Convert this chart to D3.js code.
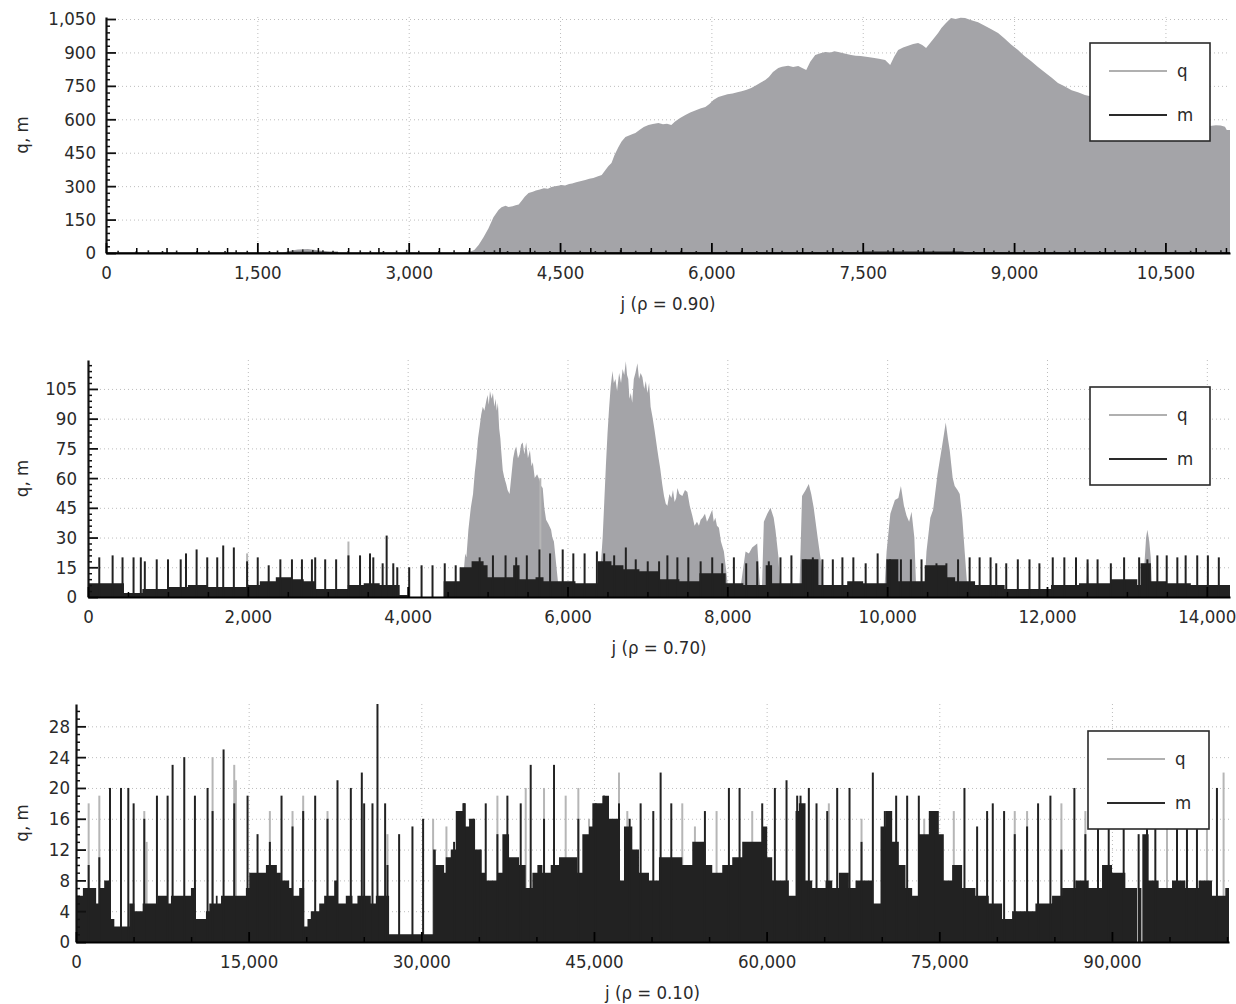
<!DOCTYPE html>
<html><head><meta charset="utf-8">
<script src="https://cdn.jsdelivr.net/npm/d3@7"></script>
<style>
body{margin:0;background:#fff;}
svg{display:block;}
</style></head><body>
<svg id="c" width="1236" height="1004"></svg>
<script>
// ---------------- DATA ----------------
// Panel 1 (rho = 0.90)
const p1_xTicks = [0,1500,3000,4500,6000,7500,9000,10500];
const p1_yTicks = [0,150,300,450,600,750,900,1050];
const p1_q = [[0,0],[1750,0],[1800,8],[1900,16],[2000,18],[2100,12],[2200,6],[2300,0],[3550,0],[3600,4],[3650,14],[3693,36],[3740,70],[3790,110],[3840,160],[3890,193],[3920,205],[3960,212],[3990,206],[4030,210],[4060,214],[4090,218],[4120,235],[4150,252],[4188,269],[4230,275],[4260,281],[4300,285],[4340,291],[4380,288],[4415,296],[4450,299],[4480,302],[4514,305],[4550,303],[4590,310],[4620,312],[4660,318],[4700,322],[4750,328],[4790,333],[4830,336],[4870,343],[4913,350],[4950,372],[4980,390],[5010,404],[5040,440],[5079,476],[5110,500],[5148,521],[5190,528],[5220,534],[5247,538],[5290,553],[5330,565],[5376,574],[5420,579],[5475,583],[5520,578],[5560,580],[5603,574],[5640,590],[5690,606],[5742,619],[5790,630],[5840,640],[5890,648],[5940,655],[5980,669],[6020,686],[6069,700],[6110,706],[6160,712],[6210,716],[6267,722],[6300,726],[6350,733],[6395,740],[6440,752],[6490,765],[6534,776],[6570,790],[6610,812],[6663,830],[6700,836],[6761,840],[6810,835],[6861,839],[6900,830],[6940,821],[6980,858],[7029,888],[7080,896],[7128,902],[7180,900],[7220,905],[7257,902],[7300,897],[7340,893],[7385,888],[7430,885],[7480,884],[7550,880],[7600,876],[7660,872],[7722,866],[7750,854],[7772,844],[7810,880],[7851,911],[7900,922],[7950,930],[8000,938],[8049,942],[8090,933],[8128,920],[8190,955],[8247,987],[8280,1010],[8320,1030],[8375,1054],[8420,1050],[8470,1056],[8514,1054],[8570,1046],[8643,1036],[8700,1022],[8770,1005],[8841,987],[8900,965],[8970,936],[9039,911],[9100,885],[9170,860],[9237,835],[9300,812],[9370,787],[9435,763],[9500,748],[9570,730],[9640,720],[9702,709],[9800,699],[9900,690],[10050,675],[10200,660],[10350,640],[10500,620],[10650,602],[10800,585],[10940,570],[11000,573],[11048,572],[11090,566],[11108,552],[11140,552]];
const p1_qSpikes = [];
const p1_mBase = [[0,3],[1800,6],[2300,3],[3600,5],[7500,7],[8500,5]];
const p1_mSpikes = [[120,10],[300,8],[420,12],[560,9],[700,11],[900,8],[1020,10],[1180,9],[1290,12],[1400,10],[1620,9],[1700,11],[1850,13],[1950,16],[2050,14],[2150,12],[2250,10],[2400,9],[2520,12],[2620,10],[2750,9],[2880,11],[2980,14],[3100,10],[3300,9],[3450,12],[3600,11],[3750,10],[3850,12],[3980,9],[4100,11],[4250,10],[4400,9],[4550,12],[4700,10],[4850,9],[4950,11],[5100,13],[5250,10],[5400,9],[5550,11],[5700,10],[5850,9],[6150,10],[6300,11],[6450,9],[6550,12],[6700,10],[6850,11],[7000,9],[7150,12],[7300,10],[7450,11],[7600,13],[7750,12],[7900,14],[8050,13],[8200,10],[8400,12],[8600,9],[8800,11],[8950,10],[9100,12],[9250,9],[9400,10],[9550,11],[9700,10],[9850,9],[10000,12],[10150,10],[10300,11],[10600,12],[10750,10],[10900,11],[11050,12]];

// Panel 2 (rho = 0.70)
const p2_xTicks = [0,2000,4000,6000,8000,10000,12000,14000];
const p2_yTicks = [0,15,30,45,60,75,90,105];
const p2_q = [[0,0],[4650,0],[4692,8],[4720,22],[4735,20],[4760,34],[4790,45],[4818,52],[4840,63],[4860,70],[4880,80],[4901,86],[4920,92],[4940,96],[4960,94],[4984,99],[5000,102],[5015,97],[5030,104],[5050,100],[5067,103],[5085,96],[5100,100],[5115,94],[5129,98],[5145,85],[5160,80],[5170,74],[5190,64],[5210,60],[5233,57],[5250,54],[5275,52],[5295,60],[5320,70],[5340,74],[5358,76],[5380,70],[5400,72],[5420,77],[5440,78],[5460,72],[5483,78],[5505,70],[5530,74],[5550,66],[5566,68],[5590,60],[5620,62],[5649,59],[5670,56],[5690,55],[5710,45],[5732,39],[5760,37],[5795,34],[5810,30],[5830,28],[5845,22],[5857,17],[5880,8],[5898,0],
 [6380,0],[6410,12],[6440,30],[6460,48],[6480,66],[6500,82],[6520,95],[6540,106],[6563,114],[6580,108],[6600,110],[6620,104],[6646,113],[6670,108],[6690,115],[6710,112],[6730,119],[6745,112],[6760,110],[6775,100],[6792,103],[6810,98],[6830,110],[6850,113],[6875,118],[6895,110],[6915,113],[6937,111],[6960,105],[6980,109],[7000,103],[7021,108],[7040,96],[7063,91],[7090,84],[7125,74],[7140,70],[7160,65],[7185,57],[7208,51],[7230,47],[7250,46],[7275,52],[7300,50],[7320,54],[7340,48],[7360,50],[7375,55],[7400,52],[7437,51],[7470,54],[7500,53],[7530,46],[7562,41],[7590,36],[7620,38],[7645,36],[7666,39],[7690,40],[7720,42],[7745,38],[7770,40],[7790,42],[7811,44],[7830,38],[7850,40],[7870,36],[7895,35],[7920,28],[7957,23],[7990,12],[8020,0],
 [8150,0],[8200,15],[8228,23],[8270,22],[8311,25],[8374,27],[8400,10],[8420,0],
 [8430,0],[8457,38],[8500,42],[8540,45],[8580,40],[8602,34],[8640,20],[8665,0],
 [8900,0],[8935,51],[8980,54],[9019,57],[9050,52],[9081,45],[9130,30],[9185,14],[9210,0],
 [9960,0],[9993,23],[10040,42],[10097,49],[10140,50],[10172,56],[10210,46],[10243,41],[10275,38],[10305,43],[10340,30],[10367,0],
 [10460,0],[10492,23],[10540,40],[10575,44],[10630,62],[10679,74],[10710,82],[10733,88],[10760,80],[10783,74],[10820,60],[10845,56],[10880,54],[10908,52],[10940,40],[10970,23],[11012,0],
 [12480,0],[12508,16],[12540,0],
 [13190,0],[13215,14],[13240,30],[13256,34],[13280,28],[13298,20],[13320,0],[14290,0]];
const p2_qSpikes = [[1991,22],[3259,28],[5660,60],[12508,17]];
const p2_mBase = [[0,7],[450,2],[680,4],[1000,5],[1250,6],[1500,5],[2000,6],[2150,8],[2350,10],[2550,9],[2700,8],[2850,4],[3250,6],[3450,7],[3650,6],[3900,1],[4000,0],[4450,8],[4650,15],[4800,18],[4950,16],[5000,10],[5320,16],[5400,9],[5600,10],[5700,8],[5900,8],[6100,7],[6380,18],[6550,16],[6700,14],[6900,13],[7150,9],[7400,8],[7650,12],[7980,7],[8200,6],[8480,16],[8560,7],[8930,19],[9140,6],[9500,8],[9700,7],[9990,19],[10140,8],[10470,16],[10740,10],[10850,8],[11100,6],[11470,4],[12050,6],[12400,7],[12800,9],[13130,6],[13170,17],[13300,8],[13500,7],[13800,6]];
const p2_mSpikes = [[141,20],[308,21],[432,20],[570,20],[661,20],[711,18],[860,19],[1001,19],[1160,19],[1226,22],[1359,24],[1492,20],[1617,20],[1692,26],[1825,25],[1991,18],[2124,20],[2261,16],[2407,19],[2552,19],[2677,19],[2802,19],[2843,20],[2968,19],[3105,19],[3259,21],[3404,21],[3529,22],[3570,20],[3687,17],[3737,31],[3820,17],[3870,15],[4019,15],[4174,16],[4311,16],[4464,17],[4601,16],[4901,20],[5067,21],[5225,21],[5358,20],[5491,21],[5649,24],[5782,22],[5940,24],[6073,22],[6214,22],[6368,23],[6459,22],[6584,21],[6730,25],[6854,19],[7004,18],[7146,18],[7250,21],[7375,20],[7512,20],[7666,18],[7811,20],[7936,17],[8082,20],[8236,17],[8374,18],[8519,18],[8665,20],[8802,21],[8977,19],[9070,20],[9190,19],[9320,19],[9440,20],[9577,20],[9731,17],[9881,22],[10035,19],[10172,19],[10297,19],[10430,19],[10617,17],[10741,17],[10887,19],[11032,20],[11157,20],[11294,20],[11365,17],[11490,17],[11635,19],[11781,19],[11905,17],[12072,20],[12217,20],[12363,20],[12508,19],[12633,19],[12799,17],[12965,20],[13153,20],[13256,19],[13381,21],[13498,21],[13631,20],[13735,21],[13880,21],[14013,21],[14150,20]];

// Panel 3 (rho = 0.10)
const p3_xTicks = [0,15000,30000,45000,60000,75000,90000];
const p3_yTicks = [0,4,8,12,16,20,24,28];
const p3_q = null;
const p3_qSpikes = [[1100,18],[2026,19],[5933,17],[6135,13],[11865,24],[13747,23],[13891,21],[16843,17],[18811,17],[19737,19],[21850,17],[27059,14],[31024,16],[32182,15],[36610,19],[39070,20],[40662,20],[42543,19],[43642,20],[44569,16],[47173,22],[47896,17],[52672,18],[53771,15],[55652,17],[58749,17],[65405,18],[68244,16],[73690,16],[76261,17],[81557,17],[82628,17],[85609,18],[87692,17],[94782,15],[98254,15],[99700,22]];
const p3_mBase = [[0,6],[600,7],[1750,5],[2050,7],[2450,8],[2900,3],[3330,2],[4630,5],[5070,4],[5790,5],[7090,6],[7960,5],[8250,6],[9985,7],[10420,3],[11290,4],[11580,5],[12150,6],[12300,5],[12600,6],[14760,7],[15050,9],[16500,10],[17360,9],[17800,8],[18520,7],[18810,6],[19390,7],[19820,2],[20110,3],[20400,4],[21130,5],[21560,6],[22430,8],[22720,5],[23440,6],[24020,5],[24450,6],[25610,5],[26050,6],[27200,1],[31024,12],[31256,10],[31980,9],[32124,11],[32558,12],[32993,17],[33571,18],[33861,15],[34150,16],[34584,12],[35163,9],[35597,8],[36610,9],[37044,14],[37623,11],[38491,10],[39070,7],[39649,9],[40083,10],[40517,9],[41240,10],[41964,11],[43556,9],[43990,14],[44569,15],[44860,18],[45726,19],[46305,16],[47173,8],[47608,15],[48331,12],[48910,9],[49778,8],[50646,11],[52672,10],[53540,13],[54697,10],[55276,9],[56144,10],[57012,11],[57880,13],[58749,13],[59617,15],[60051,11],[60486,8],[61933,6],[62512,17],[62801,18],[63380,8],[63959,7],[65117,8],[65700,7],[66276,9],[67144,7],[67723,8],[69170,5],[69894,15],[70328,17],[70907,13],[71486,10],[72065,7],[72644,6],[73222,14],[74090,17],[74958,14],[75392,8],[76116,10],[76984,7],[78141,6],[79300,5],[80457,3],[81326,4],[83351,5],[84798,6],[85666,7],[86824,8],[87981,7],[89140,10],[90008,9],[91165,7],[92177,0],[92260,7],[92560,0],[92640,14],[93190,8],[94058,7],[95220,8],[96378,7],[97530,8],[98690,6],[99848,7]];
const p3_mSpikes = [[1100,10],[2026,11],[2952,20],[3907,20],[4544,20],[5007,18],[5933,16],[7032,19],[7959,19],[8393,23],[9406,24],[10332,19],[11431,20],[11865,17],[12821,25],[13747,18],[14904,19],[15772,14],[16843,13],[17364,10],[17856,19],[18811,15],[19737,17],[20779,19],[21850,16],[22718,21],[23876,20],[24831,22],[25033,18],[25757,18],[26191,31],[26856,18],[27059,10],[28072,14],[29230,15],[30156,16],[32848,13],[33716,18],[34584,16],[35163,12],[35597,18],[36610,14],[37478,19],[38636,18],[39504,23],[40662,16],[41530,23],[43642,16],[45147,18],[45871,19],[47173,18],[48099,16],[49054,18],[50154,17],[50791,22],[51717,18],[54639,17],[56723,20],[57649,20],[59617,18],[60716,20],[61729,21],[62655,19],[62945,19],[63668,20],[64334,18],[65264,17],[66129,20],[67202,20],[68244,13],[69228,22],[70270,17],[71254,19],[72209,19],[73222,19],[74669,17],[77187,20],[78287,15],[79155,17],[79647,18],[80631,17],[81557,14],[82628,15],[83583,18],[84654,19],[85609,12],[86738,20],[87692,14],[88791,17],[89720,17],[91020,18],[92320,14],[93045,17],[93770,16],[95650,15],[96518,15],[97386,15],[99122,20]];

const seriesNames = ['q','m'];
const xLabels = ['j (\u03c1 = 0.90)','j (\u03c1 = 0.70)','j (\u03c1 = 0.10)'];
const yLabel = 'q, m';

// ---------------- STYLE / LAYOUT ----------------
const FONT = '"DejaVu Sans Condensed","DejaVu Sans",sans-serif';
const FS = 18.5;
const Q_FILL = '#a4a4a8', Q_SPIKE = '#b6b6b6', M_FILL = '#222222', TXT = '#2a2a2a';
const svg = d3.select('#c');

const panels = [
 {xMax:11140, yMax:1059, left:106, right:1230, top:17, bottom:253, xT:p1_xTicks, yT:p1_yTicks, xMinor:300, yMinor:30,
  q:p1_q, qS:p1_qSpikes, mB:p1_mBase, mS:p1_mSpikes, lab:xLabels[0], yPad:10, legend:[1090,43,120,98], spikeW:1.6},
 {xMax:14290, yMax:119.6, left:88, right:1230, top:360, bottom:597, xT:p2_xTicks, yT:p2_yTicks, xMinor:500, yMinor:3,
  q:p2_q, qS:p2_qSpikes, mB:p2_mBase, mS:p2_mSpikes, lab:xLabels[1], yPad:11, legend:[1090,387,120,98], spikeW:2},
 {xMax:100170, yMax:30.9, left:76, right:1229, top:704, bottom:942, xT:p3_xTicks, yT:p3_yTicks, xMinor:5000, yMinor:1,
  q:p3_q, qS:p3_qSpikes, mB:p3_mBase, mS:p3_mSpikes, lab:xLabels[2], yPad:6, legend:[1088,731,121,98], spikeW:2}
];

function drawPanel(c){
  const x = d3.scaleLinear().domain([0,c.xMax]).range([c.left,c.right]);
  const y = d3.scaleLinear().domain([0,c.yMax]).range([c.bottom,c.top]).clamp(true);
  const g = svg.append('g');

  // grid
  g.append('g').selectAll('line').data(c.xT.filter(d=>d>0)).join('line')
    .attr('x1',d=>x(d)+0.5).attr('x2',d=>x(d)+0.5).attr('y1',c.top).attr('y2',c.bottom)
    .attr('stroke','#bdbdbd').attr('stroke-width',1).attr('stroke-dasharray','1,3');
  g.append('g').selectAll('line').data(c.yT.filter(d=>d>0)).join('line')
    .attr('y1',d=>y(d)+0.5).attr('y2',d=>y(d)+0.5).attr('x1',c.left).attr('x2',c.right)
    .attr('stroke','#bdbdbd').attr('stroke-width',1).attr('stroke-dasharray','1,3');

  // q area
  if (c.q) {
    g.append('path').datum(c.q)
      .attr('d', d3.area().x(d=>x(d[0])).y0(y(0)).y1(d=>y(d[1])))
      .attr('fill', Q_FILL);
  }
  // q spikes
  g.append('g').selectAll('line').data(c.qS).join('line')
    .attr('x1',d=>x(d[0])).attr('x2',d=>x(d[0])).attr('y1',y(0)).attr('y2',d=>y(d[1]))
    .attr('stroke',Q_SPIKE).attr('stroke-width',c.spikeW);
  // m base (step area)
  const mb = c.mB.concat([[c.xMax, c.mB[c.mB.length-1][1]]]);
  g.append('path').datum(mb)
    .attr('d', d3.area().curve(d3.curveStepAfter).x(d=>x(d[0])).y0(y(0)).y1(d=>y(d[1])))
    .attr('fill', M_FILL);
  // m spikes
  g.append('g').selectAll('line').data(c.mS).join('line')
    .attr('x1',d=>x(d[0])).attr('x2',d=>x(d[0])).attr('y1',y(0)).attr('y2',d=>y(d[1]))
    .attr('stroke',M_FILL).attr('stroke-width',c.spikeW);

  // minor ticks
  const yMinors = d3.range(0, c.yMax, c.yMinor).filter(v => !c.yT.some(t=>Math.abs(t-v)<1e-6));
  const xMinors = d3.range(0, c.xMax, c.xMinor).filter(v => !c.xT.some(t=>Math.abs(t-v)<1e-6));
  g.append('g').attr('transform',`translate(${c.left},0)`)
    .call(d3.axisLeft(y).tickValues(yMinors).tickSizeInner(-4).tickSizeOuter(0).tickFormat(''))
    .call(s=>s.select('.domain').remove())
    .attr('color','#111').selectAll('line').attr('stroke-width',1.5);
  g.append('g').attr('transform',`translate(0,${c.bottom})`)
    .call(d3.axisBottom(x).tickValues(xMinors).tickSizeInner(-5).tickSizeOuter(0).tickFormat(''))
    .call(s=>s.select('.domain').remove())
    .attr('color','#000').selectAll('line').attr('stroke-width',1.5);

  // major axes
  const ay = g.append('g').attr('transform',`translate(${c.left},0)`)
    .call(d3.axisLeft(y).tickValues(c.yT).tickFormat(d3.format(',')).tickSizeInner(-10).tickSizeOuter(0).tickPadding(c.yPad));
  ay.attr('font-family',FONT).attr('font-size',FS).attr('color','#111');
  ay.selectAll('text').attr('fill',TXT);
  ay.selectAll('line').attr('stroke-width',1.8);
  ay.select('.domain').attr('stroke-width',2.2);

  const ax = g.append('g').attr('transform',`translate(0,${c.bottom})`)
    .call(d3.axisBottom(x).tickValues(c.xT).tickFormat(d3.format(',')).tickSizeInner(-10).tickSizeOuter(0).tickPadding(13));
  ax.attr('font-family',FONT).attr('font-size',FS).attr('color','#000');
  ax.selectAll('text').attr('fill',TXT);
  ax.selectAll('line').attr('stroke-width',1.8);
  ax.select('.domain').attr('stroke-width',2.2);

  // axis labels
  g.append('text').attr('x',(c.left+c.right)/2).attr('y',c.bottom+57)
    .attr('text-anchor','middle').attr('font-family',FONT).attr('font-size',FS).attr('fill',TXT).text(c.lab);
  const cy = (c.top+c.bottom)/2;
  g.append('text').attr('transform',`translate(28,${cy}) rotate(-90)`)
    .attr('text-anchor','middle').attr('font-family',FONT).attr('font-size',FS).attr('fill',TXT).text(yLabel);

  // legend
  const [lx,ly,lw,lh] = c.legend;
  const lg = g.append('g');
  lg.append('rect').attr('x',lx).attr('y',ly).attr('width',lw).attr('height',lh)
    .attr('fill','#fff').attr('stroke','#2a2a2a').attr('stroke-width',1.6);
  const rows = [{n:seriesNames[0], col:'#b0b0b0', dy:28},{n:seriesNames[1], col:'#2a2a2a', dy:72}];
  rows.forEach(r=>{
    lg.append('line').attr('x1',lx+19).attr('x2',lx+77).attr('y1',ly+r.dy).attr('y2',ly+r.dy)
      .attr('stroke',r.col).attr('stroke-width',2);
    lg.append('text').attr('x',lx+87).attr('y',ly+r.dy+6).attr('font-family',FONT).attr('font-size',FS)
      .attr('fill',TXT).text(r.n);
  });
}
panels.forEach(drawPanel);
</script>
</body></html>
